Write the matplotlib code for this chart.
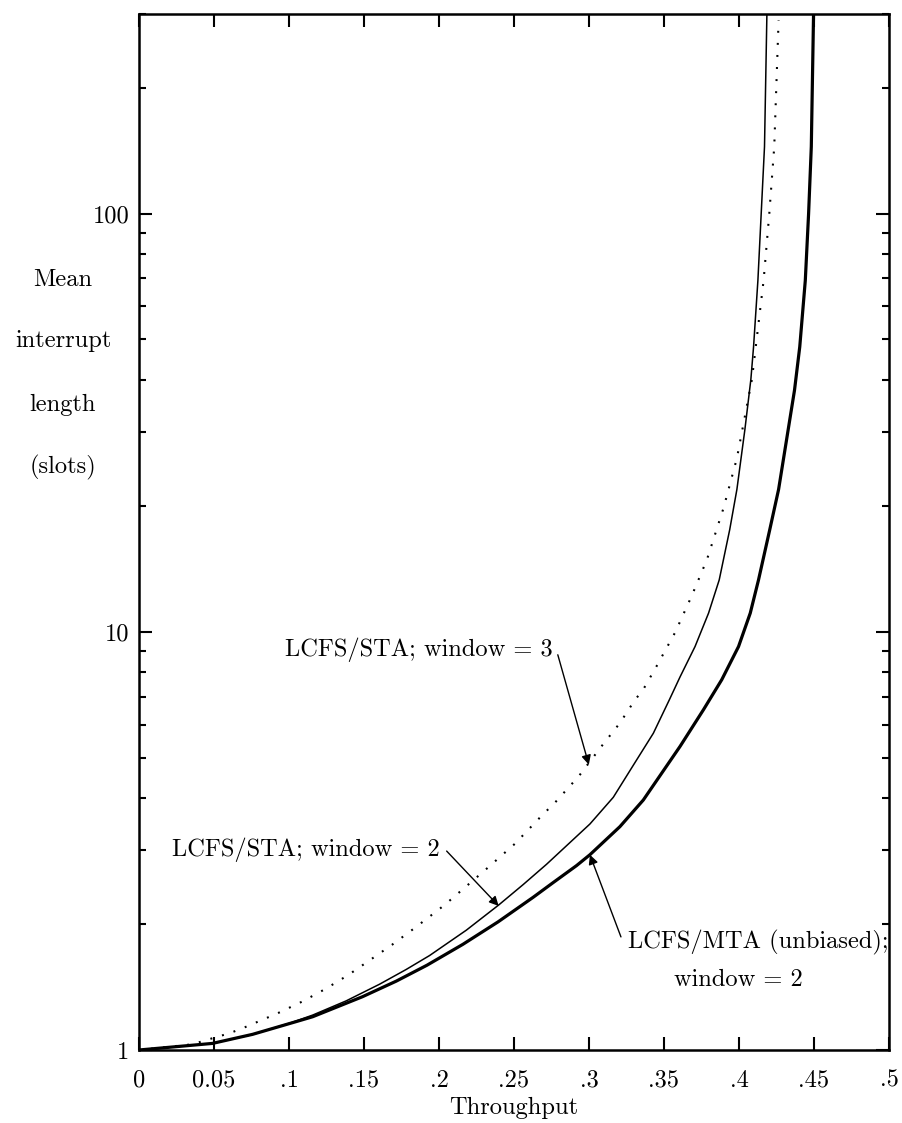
import matplotlib
matplotlib.use("Agg")
import matplotlib.pyplot as plt
from matplotlib.ticker import LogLocator, FixedLocator, NullFormatter

plt.rcParams['font.family'] = ['cmr10', 'DejaVu Serif']
plt.rcParams['lines.scale_dashes'] = False

# STA, window = 2 (thin solid)
sta2_x = [0, 0.049, 0.0757, 0.102, 0.1158, 0.138, 0.1603, 0.178, 0.1937, 0.2182,
          0.2398, 0.2561, 0.2717, 0.3006, 0.3162, 0.3296, 0.3429, 0.3536, 0.3607,
          0.3707, 0.3797, 0.3868, 0.3938, 0.3986, 0.4039, 0.4079, 0.4097, 0.4126,
          0.4148, 0.417, 0.4186]
sta2_y = [1, 1.037, 1.089, 1.164, 1.212, 1.31, 1.436, 1.557, 1.682, 1.934,
          2.222, 2.486, 2.78, 3.47, 4.02, 4.80, 5.72, 6.88, 7.8,
          9.22, 11.08, 13.3, 17.54, 21.9, 30.4, 40.1, 48.0, 69.2,
          100, 144.5, 300]

# MTA (unbiased), window = 2 (thick solid)
mta_x = [0, 0.049, 0.0757, 0.1047, 0.1158, 0.149, 0.1715, 0.192, 0.2159, 0.2394,
         0.2627, 0.276, 0.2917, 0.3006, 0.3206, 0.3362, 0.3607, 0.3763, 0.3885,
         0.3997, 0.4075, 0.413, 0.4205, 0.4264, 0.437, 0.4405, 0.4442, 0.4464,
         0.4482, 0.4497]
mta_y = [1, 1.037, 1.09, 1.169, 1.201, 1.341, 1.461, 1.595, 1.789, 2.025,
         2.317, 2.512, 2.76, 2.93, 3.42, 3.96, 5.32, 6.51, 7.68,
         9.22, 11.08, 13.3, 17.54, 21.9, 37.8, 48.0, 69.2, 100,
         144.5, 300]

# STA, window = 3 (dotted)
sta3_x = [0, 0.0356, 0.049, 0.0601, 0.069, 0.0924, 0.1087, 0.1242, 0.1396, 0.1541,
          0.1688, 0.183, 0.1971, 0.2037, 0.2311, 0.2505, 0.269, 0.2772, 0.2933,
          0.3095, 0.3206, 0.3307, 0.3358, 0.3447, 0.3574, 0.3685, 0.3786, 0.3897,
          0.3986, 0.4086, 0.4164, 0.4202, 0.4235, 0.4264]
sta3_y = [1, 1.032, 1.067, 1.096, 1.127, 1.224, 1.305, 1.399, 1.512, 1.642,
          1.786, 1.948, 2.13, 2.222, 2.70, 3.11, 3.65, 3.90, 4.52,
          5.39, 6.05, 6.88, 7.24, 8.23, 9.96, 12.19, 14.87, 19.77,
          26.0, 40.1, 69.2, 100, 144.5, 290]

x_ticks = [0, 0.05, 0.1, 0.15, 0.2, 0.25, 0.3, 0.35, 0.4, 0.45, 0.5]
x_ticklabels = ['0', '0.05', '.1', '.15', '.2', '.25', '.3', '.35', '.4', '.45', '.5']
y_ticks = [1, 10, 100]
y_ticklabels = ['1', '10', '100']

FS = 17.6

fig = plt.figure(figsize=(9.02, 11.23), dpi=100)
ax = fig.add_axes([139/902, 73/1123, 750/902, 1036/1123])

ax.plot(sta2_x, sta2_y, color='black', lw=1.1, solid_joinstyle='round')
ax.plot(mta_x, mta_y, color='black', lw=2.3, solid_joinstyle='round')
ax.plot(sta3_x, sta3_y, color='black', lw=1.5, linestyle=(0, (1.4, 7.3)))

ax.set_yscale('log')
ax.set_xlim(0, 0.5)
ax.set_ylim(1, 300)

ax.xaxis.set_major_locator(FixedLocator(x_ticks))
ax.set_xticklabels(x_ticklabels)
ax.yaxis.set_major_locator(FixedLocator(y_ticks))
ax.set_yticklabels(y_ticklabels)
ax.yaxis.set_minor_locator(LogLocator(base=10, subs=range(2, 10)))
ax.yaxis.set_minor_formatter(NullFormatter())

ax.tick_params(axis='x', which='major', direction='in', length=9.5, width=1.5,
               top=True, bottom=True, labelsize=FS, pad=14)
ax.tick_params(axis='y', which='major', direction='in', length=9.5, width=1.5,
               left=True, right=True, labelsize=FS, pad=7)
ax.tick_params(axis='y', which='minor', direction='in', length=5, width=1.5,
               left=True, right=True)
ax.tick_params(axis='x', which='minor', bottom=False, top=False)
for s in ax.spines.values():
    s.set_linewidth(1.8)

fig.text(514/902, 1 - 1108/1123, 'Throughput', ha='center', va='center', fontsize=FS)
for label, ypx in [('Mean', 280), ('interrupt', 341), ('length', 405), ('(slots)', 467)]:
    fig.text(63/902, 1 - ypx/1123, label, ha='center', va='center', fontsize=FS)

aprops = dict(arrowstyle='-|>', color='black', lw=1.0, mutation_scale=14,
              shrinkA=0, shrinkB=0)
ax.annotate('', xy=(0.2999, 4.81), xytext=(0.2792, 8.81), arrowprops=aprops)
ax.annotate('', xy=(0.2398, 2.21), xytext=(0.2051, 2.99), arrowprops=aprops)
ax.annotate('', xy=(0.3006, 2.93), xytext=(0.3213, 1.864), arrowprops=aprops)

ax.text(0.2759, 9.06, 'LCFS/STA; window = 3', ha='right', va='center', fontsize=FS)
ax.text(0.2004, 3.01, 'LCFS/STA; window = 2', ha='right', va='center', fontsize=FS)
ax.text(0.326, 1.803, 'LCFS/MTA (unbiased);', ha='left', va='center', fontsize=FS)
ax.text(0.3995, 1.47, 'window = 2', ha='center', va='center', fontsize=FS)

fig.savefig('out.png', dpi=100)
